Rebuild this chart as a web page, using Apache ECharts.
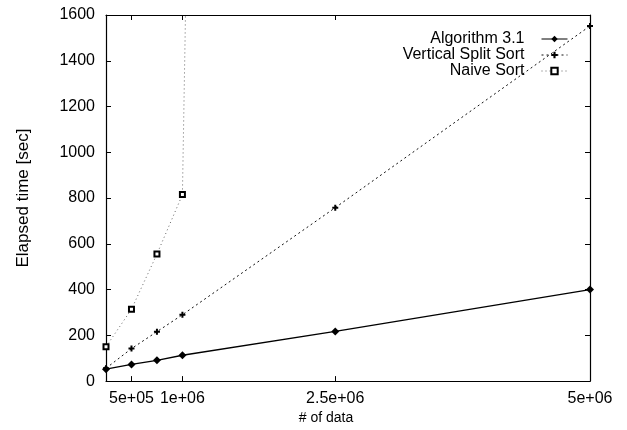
<!DOCTYPE html>
<html>
<head>
<meta charset="utf-8">
<script src="https://cdn.jsdelivr.net/npm/echarts@6/dist/echarts.min.js"></script>
<style>html,body{margin:0;padding:0;background:#fff;}#c{width:627px;height:430px;}</style>
</head>
<body>
<div id="c"></div>
<script>
// ---- data ----
var seriesNames = ['Algorithm 3.1', 'Vertical Split Sort', 'Naive Sort'];
var algX = [250000, 500000, 750000, 1000000, 2500000, 5000000];
var algY = [52, 73, 91, 113, 217, 400];
var vssX = [250000, 500000, 750000, 1000000, 2500000, 5000000];
var vssY = [56, 142, 216, 290, 758, 1552];
var naiveX = [250000, 500000, 750000, 1000000, 2500000];
var naiveY = [150, 314, 555, 815, 40000]; // last point far above the plotted range
var xTickValues = [500000, 1000000, 2500000, 5000000];
var xTickLabels = ['5e+05', '1e+06', '2.5e+06', '5e+06'];
var yTickLabels = ['0', '200', '400', '600', '800', '1000', '1200', '1400', '1600'];

function pairs(xs, ys) { return xs.map(function (x, i) { return [x, ys[i]]; }); }

var FONT = 'Liberation Sans, Arial, Helvetica, sans-serif';
var chart = echarts.init(document.getElementById('c'), null, {renderer: 'canvas'});

var xBase = {
  type: 'value', min: 250000, max: 5000000,
  splitLine: {show: false},
  axisLine: {show: true, onZero: false, lineStyle: {color: '#000', width: 1.2}},
  axisTick: {show: true, inside: true, length: 5, customValues: xTickValues, lineStyle: {color: '#000'}}
};
var yBase = {
  type: 'value', min: 0, max: 1600, interval: 200,
  splitLine: {show: false},
  axisLine: {show: true, onZero: false, lineStyle: {color: '#000', width: 1.2}},
  axisTick: {show: true, inside: true, length: 5, lineStyle: {color: '#000'}}
};

var option = {
  backgroundColor: '#fff',
  animation: false,
  grid: {left: 106, right: 37, top: 15, bottom: 45, containLabel: false},
  xAxis: [
    Object.assign({}, xBase, {
      position: 'bottom',
      name: '# of data', nameLocation: 'middle', nameGap: 28,
      nameTextStyle: {fontFamily: FONT, fontSize: 14, color: '#000', padding: [0, 44, 0, 0]},
      axisLabel: {
        show: true, margin: 9, customValues: xTickValues,
        fontFamily: FONT, fontSize: 16, color: '#000',
        formatter: function (v) { var i = xTickValues.indexOf(v); return i >= 0 ? xTickLabels[i] : ''; }
      }
    }),
    Object.assign({}, xBase, {position: 'top', axisLabel: {show: false}})
  ],
  yAxis: [
    Object.assign({}, yBase, {
      position: 'left',
      name: 'Elapsed time [sec]', nameLocation: 'middle', nameGap: 74,
      nameTextStyle: {fontFamily: FONT, fontSize: 17, color: '#000'},
      axisLabel: {
        show: true, margin: 11, fontFamily: FONT, fontSize: 16, color: '#000',
        formatter: function (v) { return yTickLabels[Math.round(v / 200)]; }
      }
    }),
    Object.assign({}, yBase, {position: 'right', axisLabel: {show: false}})
  ],
  legend: {
    orient: 'vertical', align: 'right', right: 54, top: 26,
    itemWidth: 26, itemHeight: 8, itemGap: 0,
    data: seriesNames,
    lineStyle: {width: 1},
    textStyle: {fontFamily: FONT, fontSize: 16, color: '#000', lineHeight: 11, padding: [0, 12, 0, 0]}
  },
  series: [
    {
      name: seriesNames[0], type: 'line', xAxisIndex: 0, yAxisIndex: 0,
      data: pairs(algX, algY), symbol: 'diamond', symbolSize: 8,
      itemStyle: {color: '#000'}, lineStyle: {color: '#000', width: 1.3, type: 'solid'}
    },
    {
      name: seriesNames[1], type: 'line', xAxisIndex: 0, yAxisIndex: 0,
      data: pairs(vssX, vssY),
      symbol: 'path://M2,0h2v2h2v2h-2v2h-2v-2h-2v-2h2z', symbolSize: 6,
      itemStyle: {color: '#000'}, lineStyle: {color: '#111', width: 1, type: [2, 3]}
    },
    {
      name: seriesNames[2], type: 'line', xAxisIndex: 0, yAxisIndex: 0,
      data: pairs(naiveX, naiveY), symbol: 'emptyRect', symbolSize: 5, clip: true,
      itemStyle: {color: '#000', borderColor: '#222', borderWidth: 1}, lineStyle: {color: '#666', width: 1, type: [1, 3]}
    }
  ]
};
chart.setOption(option);
</script>
</body>
</html>
